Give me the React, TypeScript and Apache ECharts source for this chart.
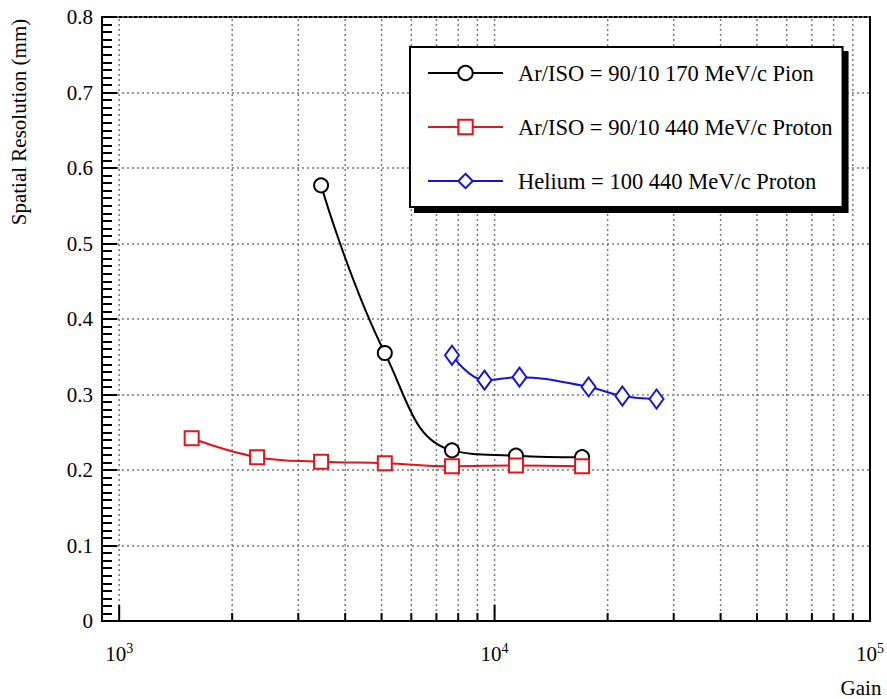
import React, { useEffect, useRef } from "react";
import * as echarts from "echarts";

const FONT = "Liberation Serif";

const seriesNames = [
  "Ar/ISO = 90/10 170 MeV/c Pion",
  "Ar/ISO = 90/10 440 MeV/c Proton",
  "Helium = 100 440 MeV/c Proton",
];

const pionGain = [3450, 5100, 7700, 11400, 17100];
const pionRes = [0.577, 0.355, 0.226, 0.219, 0.217];

const protonGain = [1560, 2330, 3450, 5100, 7700, 11400, 17100];
const protonRes = [0.242, 0.217, 0.211, 0.209, 0.205, 0.206, 0.205];

const heliumGain = [7700, 9400, 11650, 17800, 21900, 27000];
const heliumRes = [0.352, 0.319, 0.323, 0.31, 0.298, 0.294];

const xGridValues = [
  1000, 2000, 3000, 4000, 5000, 6000, 7000, 8000, 9000,
  10000, 20000, 30000, 40000, 50000, 60000, 70000, 80000, 90000,
];

const yMin = 0;
const yMax = 0.8;
const yStep = 0.1;
const xMin = 900;
const xMax = 100000;

const zip = (a: number[], b: number[]) => a.map((v, i) => [v, b[i]]);

export default function App() {
  const ref = useRef<HTMLDivElement>(null);
  useEffect(() => {
    if (!ref.current) return;
    const chart = echarts.init(ref.current, undefined, { renderer: "svg" });
    const black = "#000000";
    const red = "#e4141c";
    const blue = "#1414d2";
    const option: any = {
      animation: false,
      backgroundColor: "#ffffff",
      textStyle: { fontFamily: FONT },
      grid: {
        left: 102,
        right: 16,
        top: 17,
        bottom: 78,
        show: true,
        borderColor: "#000",
        borderWidth: 2,
        backgroundColor: "transparent",
      },
      legend: {
        orient: "vertical",
        left: 410,
        top: 47,
        data: seriesNames,
        itemWidth: 75,
        itemHeight: 18,
        itemGap: 30,
        padding: [14, 10, 14, 17],
        backgroundColor: "#fff",
        borderColor: "#000",
        borderWidth: 2,
        borderRadius: 0,
        shadowColor: "#000",
        shadowBlur: 0,
        shadowOffsetX: 5,
        shadowOffsetY: 5,
        textStyle: {
          fontFamily: FONT,
          fontSize: 22.5,
          color: "#000",
          lineHeight: 24,
          padding: [0, 0, 0, 10],
        },
      },
      xAxis: {
        type: "log",
        logBase: 10,
        min: xMin,
        max: xMax,
        axisLine: { lineStyle: { color: "#000", width: 2 } },
        axisTick: { show: false },
        splitLine: { show: false },
        minorTick: { show: false },
        axisLabel: {
          showMinLabel: true,
          showMaxLabel: true,
          margin: 20,
          fontFamily: FONT,
          formatter: (v: number) => {
            const l = Math.log10(v);
            const r = Math.round(l);
            if (Math.abs(l - r) > 1e-6) return "";
            return `{b|10}{s|${r}}`;
          },
          rich: {
            b: { fontFamily: FONT, fontSize: 21, color: "#000" },
            s: { fontFamily: FONT, fontSize: 14, color: "#000", padding: [0, 0, 12, 0] },
          },
        },
      },
      yAxis: {
        type: "value",
        min: yMin,
        max: yMax,
        interval: yStep,
        axisLine: { show: true, lineStyle: { color: "#000", width: 2 } },
        axisTick: { show: true, inside: true, length: 15, lineStyle: { color: "#000", width: 2 } },
        minorTick: { show: true, splitNumber: 10, length: 10, lineStyle: { color: "#000", width: 2 } },
        splitLine: {
          show: true,
          lineStyle: { color: "#7a7a7a", width: 1.5, type: [2, 3] },
        },
        axisLabel: {
          fontFamily: FONT,
          fontSize: 21,
          color: "#000",
          margin: 9,
          formatter: (v: number) => (v === 0 ? "0" : v.toFixed(1)),
        },
      },
      graphic: [
        {
          type: "text",
          x: 19,
          y: 122,
          rotation: Math.PI / 2,
          style: {
            text: "Spatial Resolution (mm)",
            fontFamily: FONT,
            fontSize: 21,
            fill: "#000",
            textAlign: "center",
            textVerticalAlign: "middle",
          },
        },
        {
          type: "text",
          x: 861,
          y: 688,
          style: {
            text: "Gain",
            fontFamily: FONT,
            fontSize: 21,
            fill: "#000",
            textAlign: "center",
            textVerticalAlign: "middle",
          },
        },
      ],
      series: [
        {
          type: "custom",
          name: "grid",
          silent: true,
          z: 1,
          data: xGridValues.map((v) => [v, 0]),
          encode: { x: 0, y: 1 },
          renderItem: (params: any, api: any) => {
            const v = api.value(0);
            const bottom = api.coord([v, yMin]);
            const top = api.coord([v, yMax]);
            const l = Math.log10(v);
            const major = Math.abs(l - Math.round(l)) < 1e-6;
            const len = major ? 16 : 8;
            return {
              type: "group",
              children: [
                {
                  type: "line",
                  shape: { x1: bottom[0], y1: bottom[1], x2: top[0], y2: top[1] },
                  style: { stroke: "#7a7a7a", lineWidth: 1.5, lineDash: [2, 3] },
                },
                {
                  type: "line",
                  shape: { x1: bottom[0], y1: bottom[1], x2: bottom[0], y2: bottom[1] - len },
                  style: { stroke: "#000", lineWidth: 2 },
                },
              ],
            };
          },
        },
        {
          type: "line",
          name: seriesNames[0],
          data: zip(pionGain, pionRes),
          smooth: 0.45,
          symbol: "emptyCircle",
          symbolSize: 14,
          z: 3,
          lineStyle: { color: black, width: 2 },
          itemStyle: { color: black, borderWidth: 2 },
        },
        {
          type: "line",
          name: seriesNames[1],
          data: zip(protonGain, protonRes),
          smooth: 0.4,
          symbol: "emptyRect",
          symbolSize: 14,
          z: 3,
          lineStyle: { color: red, width: 2 },
          itemStyle: { color: red, borderWidth: 2 },
        },
        {
          type: "line",
          name: seriesNames[2],
          data: zip(heliumGain, heliumRes),
          smooth: 0.4,
          symbol: "emptyDiamond",
          symbolSize: [14, 19],
          z: 3,
          lineStyle: { color: blue, width: 2 },
          itemStyle: { color: blue, borderWidth: 2 },
        },
      ],
    };
    chart.setOption(option);
    return () => chart.dispose();
  }, []);
  return <div ref={ref} style={{ width: 887, height: 699, position: "absolute", left: 0, top: 0 }} />;
}
